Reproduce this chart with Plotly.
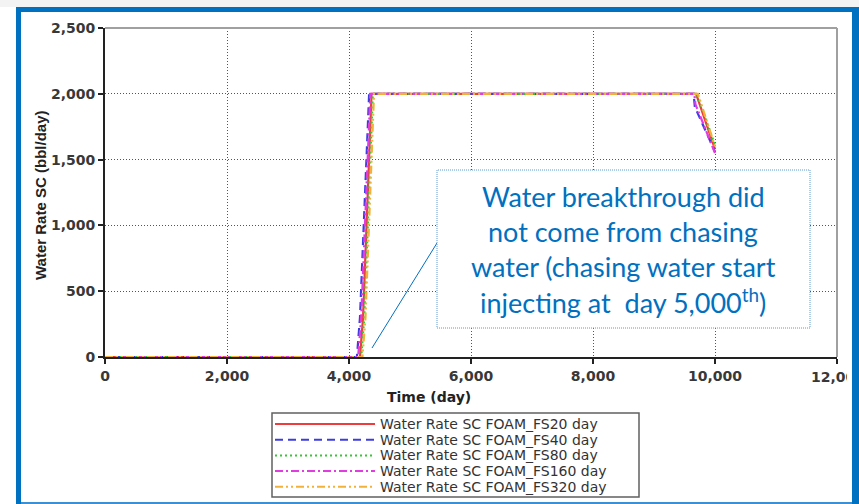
import plotly.graph_objects as go

# ---- data -------------------------------------------------------------
series_names = [
    "Water Rate SC FOAM_FS20 day",
    "Water Rate SC FOAM_FS40 day",
    "Water Rate SC FOAM_FS80 day",
    "Water Rate SC FOAM_FS160 day",
    "Water Rate SC FOAM_FS320 day",
]
days_fs20 = [0, 4180, 4230, 4300, 4370, 9690, 10000]
rate_fs20 = [0, 0, 300, 1200, 2000, 2000, 1580]
days_fs40 = [0, 4130, 4180, 4260, 4330, 9650, 9670, 10000]
rate_fs40 = [0, 0, 300, 1200, 2000, 2000, 1900, 1560]
days_fs80 = [0, 4200, 4250, 4320, 4390, 9700, 10000]
rate_fs80 = [0, 0, 300, 1200, 2000, 2000, 1610]
days_fs160 = [0, 4150, 4200, 4280, 4350, 9660, 9680, 10000]
rate_fs160 = [0, 0, 300, 1200, 2000, 2000, 1920, 1550]
days_fs320 = [0, 4220, 4270, 4340, 4410, 9720, 10000]
rate_fs320 = [0, 0, 300, 1200, 2000, 2000, 1600]

x_ticks = [0, 2000, 4000, 6000, 8000, 10000, 12000]
y_ticks = [0, 500, 1000, 1500, 2000, 2500]

note_lines = [
    "Water breakthrough did",
    "not come from chasing",
    "water (chasing water start",
    "injecting at  day 5,000<sup>th</sup>)",
]

# ---- styling ----------------------------------------------------------
W, H = 859, 504
L, R, T, B = 105, 22, 28, 147
PW, PH = W - L - R, H - T - B

colors = ["#EE3B3B", "#3C3CE0", "#35C835", "#E23BE2", "#F2B23A"]
dashes = ["solid", "8px,5px", "2px,3px", "8px,3px,2px,3px", "8px,3px,2px,3px,2px,3px"]
xs = [days_fs20, days_fs40, days_fs80, days_fs160, days_fs320]
ys = [rate_fs20, rate_fs40, rate_fs80, rate_fs160, rate_fs320]

BLUE = "#0070C0"


def px(x):
    return (x - L) / PW


def py(y):
    return (H - B - y) / PH


fig = go.Figure()
for name, x, y, c, d in zip(series_names, xs, ys, colors, dashes):
    fig.add_trace(go.Scatter(x=x, y=y, mode="lines", name=name,
                             line=dict(color=c, width=2.2, dash=d),
                             showlegend=False))

tickfont = dict(family="DejaVu Sans", size=14, weight="bold", color="#383838")
axis_common = dict(
    showgrid=True, gridcolor="#555555", gridwidth=1.4, griddash="1px,2px",
    showline=True, linecolor="#222", linewidth=2,
    ticks="outside", ticklen=5, tickwidth=2, tickcolor="#222",
    tickfont=tickfont, zeroline=False, tickformat=",",
)

fig.update_layout(
    width=W, height=H,
    margin=dict(l=L, r=R, t=T, b=B),
    paper_bgcolor="white", plot_bgcolor="white",
    xaxis=dict(range=[0, 12000], tickvals=x_ticks, **axis_common),
    yaxis=dict(range=[0, 2500], tickvals=y_ticks, **axis_common),
)

shapes = []
ann = []

# plot frame (top / right)
shapes.append(dict(type="line", xref="paper", yref="paper", x0=0, x1=1, y0=1, y1=1,
                   line=dict(color="#A0A0A0", width=2)))
shapes.append(dict(type="line", xref="paper", yref="paper", x0=1, x1=1, y0=0, y1=1,
                   line=dict(color="#A0A0A0", width=2)))

# last x label sits under the slide frame, so it is cut off on the right
last_label = f"{x_ticks[-1]:,}"
ann.append(dict(xref="x", yref="paper", x=x_ticks[-1], xshift=-27, y=py(377),
                text=last_label, showarrow=False, xanchor="left", yanchor="middle",
                width=36, align="left", borderpad=0,
                font=tickfont))

# axis titles
ann.append(dict(xref="paper", yref="paper", x=px(429), y=py(397), text="Time (day)",
                showarrow=False, xanchor="center", yanchor="middle",
                font=dict(family="DejaVu Sans", size=14, weight="bold", color="#222")))
ann.append(dict(xref="paper", yref="paper", x=px(40), y=py(196), text="Water Rate SC (bbl/day)",
                showarrow=False, textangle=-90, xanchor="center", yanchor="middle",
                font=dict(family="Liberation Sans", size=15, weight="bold", color="#222")))

# callout box with leader line
shapes.append(dict(type="line", xref="paper", yref="paper",
                   x0=px(372), y0=py(348), x1=px(437), y1=py(243),
                   line=dict(color=BLUE, width=1)))
shapes.append(dict(type="rect", xref="paper", yref="paper",
                   x0=px(437), x1=px(810), y0=py(328), y1=py(170),
                   fillcolor="white", line=dict(color="#5B9BD5", width=1, dash="1px,1px")))
for i, line in enumerate(note_lines):
    ann.append(dict(xref="paper", yref="paper", x=px(623), y=py(197 + 34.5 * i),
                    text=line, showarrow=False, xanchor="center", yanchor="middle",
                    font=dict(family="Lato", size=27, color=BLUE)))

# legend box
shapes.append(dict(type="rect", xref="paper", yref="paper",
                   x0=px(272), x1=px(639), y0=py(497), y1=py(413),
                   fillcolor="white", line=dict(color="#606060", width=1.5)))
for i, (name, c, d) in enumerate(zip(series_names, colors, dashes)):
    yy = py(424 + 15.7 * i)
    shapes.append(dict(type="line", xref="paper", yref="paper",
                       x0=px(275), x1=px(375), y0=yy, y1=yy,
                       line=dict(color=c, width=2, dash=d)))
    ann.append(dict(xref="paper", yref="paper", x=px(378), y=yy, text=name,
                    showarrow=False, xanchor="left", yanchor="middle",
                    font=dict(family="DejaVu Sans", size=14, color="#333")))

# slide frame
shapes.append(dict(type="rect", xref="paper", yref="paper",
                   x0=px(0), x1=px(W), y0=py(0), y1=py(7),
                   fillcolor="#F3F3F3", line=dict(width=0), layer="above"))
for x0, x1, y0, y1 in [(16, 21, 7, H), (16, W, 7, 12), (852, W, 7, H)]:
    shapes.append(dict(type="rect", xref="paper", yref="paper",
                       x0=px(x0), x1=px(x1), y0=py(y1), y1=py(y0),
                       fillcolor=BLUE, line=dict(width=0), layer="above"))
shapes.append(dict(type="rect", xref="paper", yref="paper",
                   x0=px(21), x1=px(852), y0=py(H), y1=py(502),
                   fillcolor="#3C8FD2", line=dict(width=0), layer="above"))

fig.update_layout(shapes=shapes, annotations=ann)
fig.write_html("out.html")
